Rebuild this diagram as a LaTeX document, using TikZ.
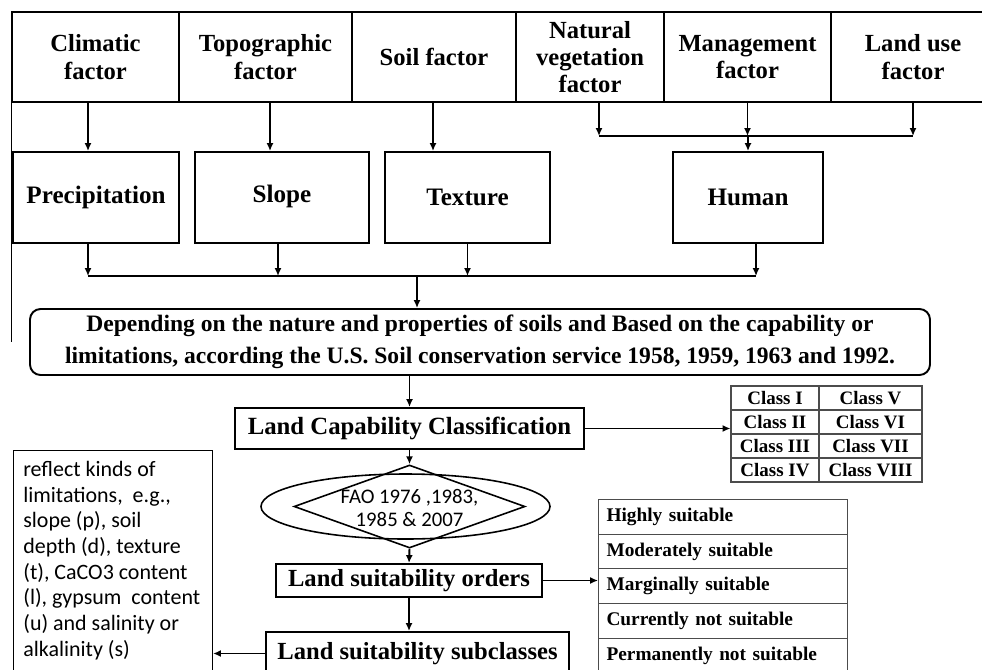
\documentclass[tikz,border=0pt]{standalone}
\usepackage{fontspec}
\setmainfont{Liberation Serif}
\newfontfamily\calibri{Carlito}
\usetikzlibrary{arrows.meta,positioning,shapes.geometric}

\begin{document}
\begin{tikzpicture}[x=0.02cm, y=-0.02cm, >={Latex[length=4.5pt,width=4pt]}, font=\bfseries\fontsize{14}{15.5}\selectfont]
  \tikzstyle{fac}=[draw, line width=1.1pt, align=center, inner sep=0pt, minimum height=90*0.02cm]
  \tikzstyle{box}=[draw, line width=1.1pt, align=center, inner sep=0pt]
  \tikzstyle{var}=[box, minimum height=91*0.02cm, font=\bfseries\fontsize{14.3}{15}\selectfont]
  \tikzstyle{cell}=[draw=black!70, line width=0.6pt, inner sep=0pt, font=\bfseries\fontsize{10.8}{12}\selectfont]
  \tikzstyle{link}=[->, line width=1.1pt]
  \tikzstyle{bus}=[line width=1.1pt]
  \useasboundingbox (0,0) rectangle (982,669);
  \clip (0,0) rectangle (982,669);

  % factors
  \node[fac, minimum width=167*0.02cm] (clim) at (95.5,57) {Climatic\\factor};
  \node[fac, minimum width=173*0.02cm] (topo) at (265.5,57) {Topographic\\factor};
  \node[fac, minimum width=164*0.02cm] (soil) at (434,57) {Soil factor};
  \node[fac, minimum width=148*0.02cm] (nat) at (590,57) {Natural\\vegetation\\factor};
  \node[fac, minimum width=167*0.02cm] (mgmt) at (747.5,57) {Management\\factor};
  \node[fac, minimum width=164*0.02cm] (luse) at (913,57) {Land use\\factor};
  \draw[line width=0.6pt] (clim.north west) -- (clim.north west |- 0,342);

  % variables
  \node[var, minimum width=166*0.02cm] (prec) at (96,197.5) {Precipitation};
  \node[var, minimum width=174*0.02cm] (slope) at (282,197.5) {\raisebox{4pt}{Slope}};
  \node[var, minimum width=165*0.02cm] (texture) at (467.5,197.5) {Texture};
  \node[var, minimum width=150*0.02cm] (human) at (748,197.5) {Human};

  \coordinate (xa) at (88,0);
  \coordinate (xb) at (270,0);
  \coordinate (xc) at (433,0);
  \coordinate (xd) at (599,0);
  \coordinate (xe) at (278,0);
  \coordinate (xf) at (417,0);
  \coordinate (xg) at (756,0);
  \coordinate (hbus) at (0,136);
  \coordinate (lbus) at (0,276);

  \draw[link] (clim.south -| xa) -- (prec.north -| xa);
  \draw[link] (topo.south -| xb) -- (slope.north -| xb);
  \draw[link] (soil.south -| xc) -- (texture.north -| xc);
  \draw[link] (nat.south -| xd) -- (hbus -| xd);
  \draw[link] (mgmt.south) -- (hbus -| mgmt.south);
  \draw[link] (luse.south) -- (hbus -| luse.south);
  \draw[bus] (hbus -| xd) -- (hbus -| luse.south);
  \draw[link] (hbus -| human.north) -- (human.north);

  \draw[link] (prec.south -| xa) -- (lbus -| xa);
  \draw[link] (slope.south -| xe) -- (lbus -| xe);
  \draw[link] (texture.south) -- (lbus -| texture.south);
  \draw[link] (human.south -| xg) -- (lbus -| xg);
  \draw[bus] (lbus -| xa) -- (lbus -| xg);

  % classification
  \node[box, rounded corners=6pt, minimum width=900*0.02cm, minimum height=66*0.02cm, font=\bfseries\fontsize{13.4}{18}\selectfont] (basis) at (480,342)
    {Depending on the nature and properties of soils and Based on the capability or\\limitations, according the U.S. Soil conservation service 1958, 1959, 1963 and 1992.};
  \draw[link] (lbus -| xf) -- (basis.north -| xf);

  \node[box, minimum width=349*0.02cm, minimum height=41*0.02cm, font=\bfseries\fontsize{14.1}{16}\selectfont] (lcc) at (409.5,428.5) {Land Capability Classification};
  \draw[link] (basis.south -| lcc.north) -- (lcc.north);

  \foreach \a/\b [count=\i] in {I/V, II/VI, III/VII, IV/VIII} {
    \node[cell, minimum width=88*0.02cm, minimum height=24*0.02cm] (cls\i) at (775,{374+24*\i}) {Class \a};
    \node[cell, minimum width=103*0.02cm, minimum height=24*0.02cm] (clsr\i) at (870.5,{374+24*\i}) {Class \b};
  }
  \draw[link] (lcc.east) -- (lcc.east -| cls2.west);

  \node[draw, ellipse, line width=0.9pt, inner sep=0pt, minimum width=289*0.02cm, minimum height=65*0.02cm] (faoe) at (405.5,506.5) {};
  \node[draw, diamond, line width=0.9pt, inner sep=0pt, minimum width=231*0.02cm, minimum height=83*0.02cm] (faod) at (409.5,506.5) {};
  \node[align=center, inner sep=0pt, font=\calibri\fontsize{11.8}{13.5}\selectfont] (fao) at (409.5,508) {FAO 1976 ,1983,\\1985 \& 2007};
  \draw[link] (lcc.south) -- (faod.north);

  \node[box, minimum width=266*0.02cm, minimum height=33*0.02cm] (lso) at (409,580.5) {Land suitability orders};
  \draw[link] (faod.south) -- (lso.north);

  \foreach \t [count=\i] in {Highly suitable, Moderately suitable, Marginally suitable, Currently not suitable, Permanently not suitable}
    \node[cell, anchor=north west, inner xsep=8*0.02cm, text width=233*0.02cm, minimum height=34.7*0.02cm, align=left, font=\bfseries\fontsize{11}{12}\selectfont] (suit\i) at (598,{499+34.7*(\i-1)}) {\t};
  \draw[link] (lso.east) -- (lso.east -| suit3.west);

  \node[box, minimum width=303*0.02cm, minimum height=43*0.02cm] (lss) at (417.5,653.5) {Land suitability subclasses};
  \draw[link] (lso.south) -- (lss.north -| lso.south);

  % limitations
  \node[draw, line width=0.6pt, anchor=north west, inner sep=0pt, minimum width=199*0.02cm, minimum height=240*0.02cm] (limits) at (13,450) {};
  \node[anchor=north west, align=left, inner sep=0pt, font=\calibri\fontsize{12.5}{14.6}\selectfont] (limtxt) at (23,461)
    {reflect kinds of\\limitations,\ \ e.g.,\\slope (p), soil\\depth (d), texture\\(t), CaCO3 content\\(l), gypsum\ \ content\\(u) and salinity or\\alkalinity (s)};
  \draw[link] (lss.west) -- (lss.west -| limits.east);
\end{tikzpicture}
\end{document}
